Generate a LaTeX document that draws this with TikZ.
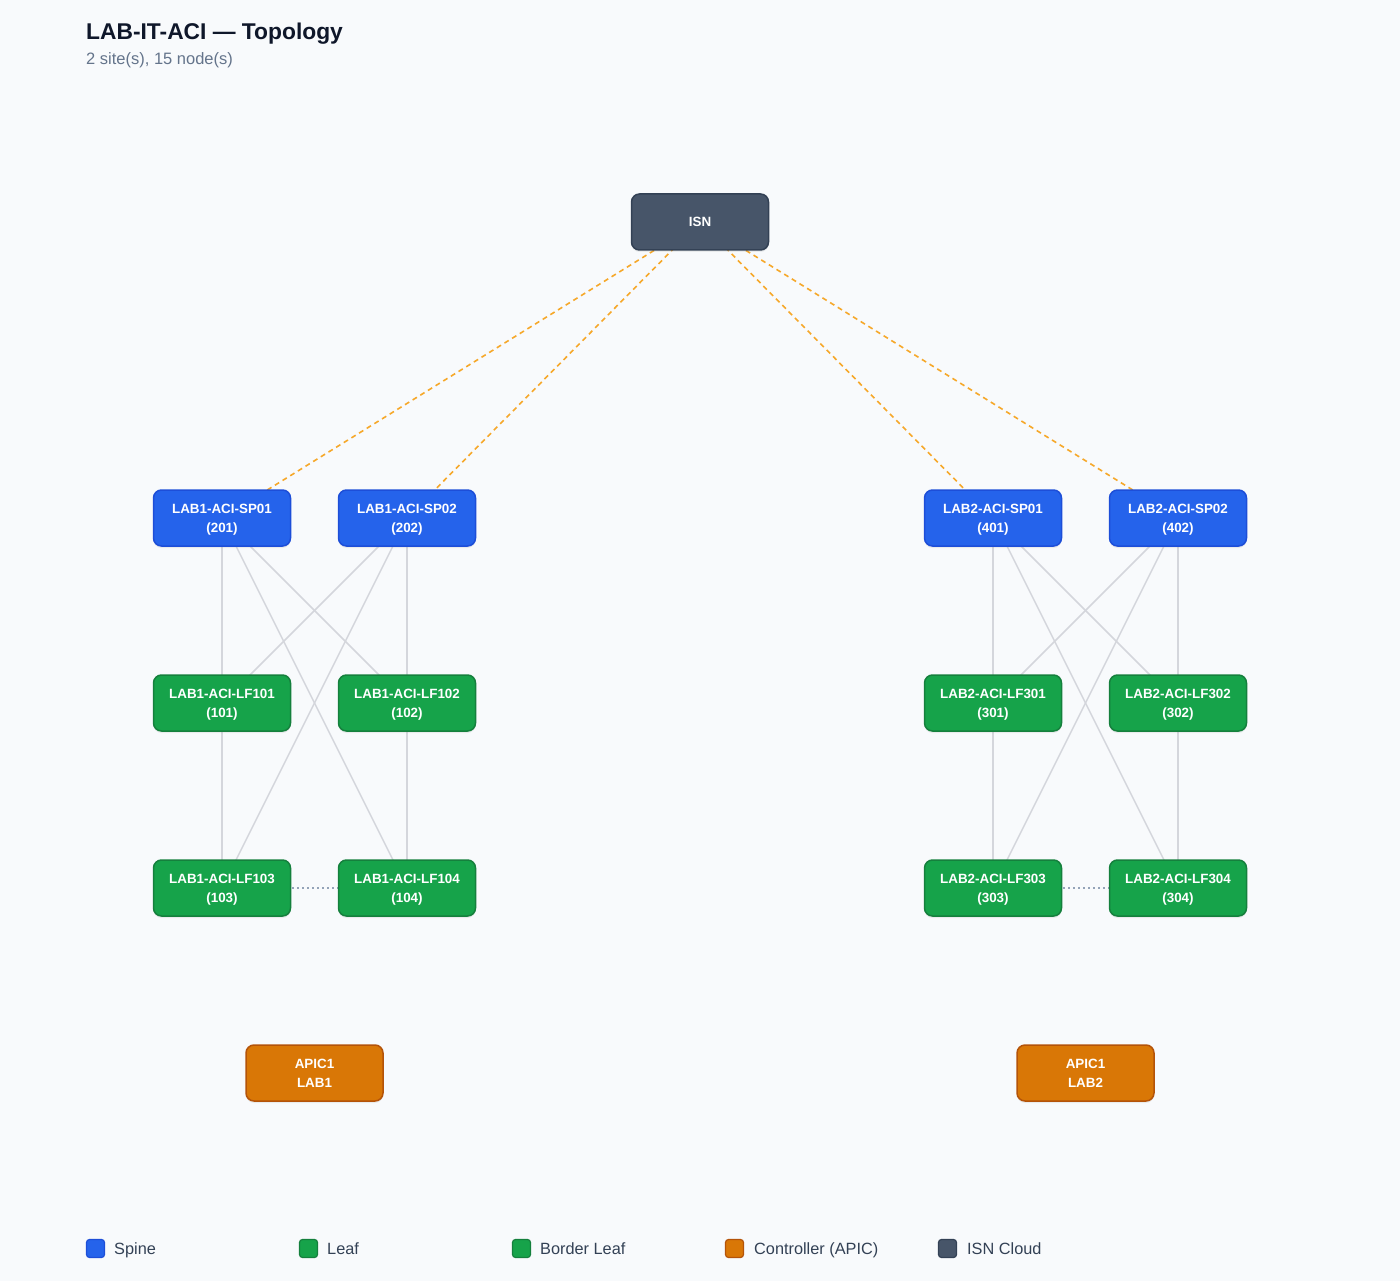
\documentclass[tikz,border=0pt]{standalone}
\usepackage{fontspec}
\setmainfont{Liberation Sans}
\usetikzlibrary{shadows}
\definecolor{bg}{HTML}{F8FAFC}
\definecolor{spine}{HTML}{2563EB}
\definecolor{spineb}{HTML}{1D4ED8}
\definecolor{leaf}{HTML}{16A34A}
\definecolor{leafb}{HTML}{15803D}
\definecolor{apic}{HTML}{D97706}
\definecolor{apicb}{HTML}{B45309}
\definecolor{isn}{HTML}{475569}
\definecolor{isnb}{HTML}{334155}
\definecolor{edgec}{HTML}{D4D6DC}
\definecolor{isnlink}{HTML}{F6A82A}
\definecolor{peerc}{HTML}{94A3B8}
\definecolor{titlec}{HTML}{0F172A}
\definecolor{subc}{HTML}{64748B}
\definecolor{legc}{HTML}{334155}
\pgfdeclarelayer{canvas}
\pgfdeclarelayer{background}
\pgfsetlayers{canvas,background,main}
\tikzset{
  devbox/.style={rectangle, rounded corners=8pt, minimum width=137pt, minimum height=56pt,
    line width=1.5pt, text=white, align=center, inner sep=0pt, text depth=0pt,
    font=\fontsize{13.4}{19}\selectfont\bfseries,
    drop shadow={opacity=0.12, shadow xshift=0pt, shadow yshift=-2pt}},
  spinebox/.style={devbox, fill=spine, draw=spineb},
  leafbox/.style={devbox, fill=leaf, draw=leafb},
  apicbox/.style={devbox, fill=apic, draw=apicb},
  isnbox/.style={devbox, fill=isn, draw=isnb},
  fabric/.style={draw=edgec, line width=1.5pt},
  isnln/.style={draw=isnlink, line width=1.6pt, dash pattern=on 5pt off 4pt},
  peerln/.style={draw=peerc, line width=2pt, dash pattern=on 2pt off 3pt},
  legsq/.style={rectangle, rounded corners=3pt, minimum width=18pt, minimum height=18pt, line width=1.2pt, inner sep=0pt},
  legtxt/.style={anchor=base west, text=legc, font=\fontsize{16.3}{19}\selectfont, inner sep=0pt},
}
\begin{document}
\begin{tikzpicture}[x=1pt,y=-1pt]
\begin{pgfonlayer}{canvas}
\fill[bg] (0,0) rectangle (1400,1281);
\end{pgfonlayer}
\useasboundingbox (0,0) rectangle (1400,1281);

\node[anchor=base west, inner sep=0pt, text=titlec, font=\fontsize{22.8}{27}\selectfont\bfseries] (title) at (86,40) {LAB-IT-ACI — Topology};
\node[anchor=base west, inner sep=0pt, text=subc, font=\fontsize{16.5}{19}\selectfont] (subtitle) at (86,65) {2 site(s), 15 node(s)};

\node[isnbox] (isn) at (700,222) {ISN};

\node[spinebox] (s11) at (222,518) {LAB1-ACI-SP01\\(201)};
\node[spinebox] (s12) at (407,518) {LAB1-ACI-SP02\\(202)};
\node[spinebox] (s21) at (993,518) {LAB2-ACI-SP01\\(401)};
\node[spinebox] (s22) at (1178,518) {LAB2-ACI-SP02\\(402)};

\node[leafbox] (l101) at (222,703) {LAB1-ACI-LF101\\(101)};
\node[leafbox] (l102) at (407,703) {LAB1-ACI-LF102\\(102)};
\node[leafbox] (l103) at (222,888) {LAB1-ACI-LF103\\(103)};
\node[leafbox] (l104) at (407,888) {LAB1-ACI-LF104\\(104)};
\node[leafbox] (l301) at (993,703) {LAB2-ACI-LF301\\(301)};
\node[leafbox] (l302) at (1178,703) {LAB2-ACI-LF302\\(302)};
\node[leafbox] (l303) at (993,888) {LAB2-ACI-LF303\\(303)};
\node[leafbox] (l304) at (1178,888) {LAB2-ACI-LF304\\(304)};

\node[apicbox] (a1) at (314.5,1073) {APIC1\\LAB1};
\node[apicbox] (a2) at (1085.5,1073) {APIC1\\LAB2};

\begin{pgfonlayer}{background}
  \foreach \s in {s11,s12} \foreach \l in {l101,l102,l103,l104}
    \draw[fabric] (\s.center) -- (\l.center);
  \foreach \s in {s21,s22} \foreach \l in {l301,l302,l303,l304}
    \draw[fabric] (\s.center) -- (\l.center);
  \foreach \s in {s11,s12,s21,s22}
    \draw[isnln] (isn.center) -- (\s.center);
  \draw[peerln] (l103.center) -- (l104.center);
  \draw[peerln] (l303.center) -- (l304.center);
\end{pgfonlayer}

\node[legsq, fill=spine, draw=spineb] (lg1) at (95.5,1248.5) {};
\node[legtxt] (lt1) at (114,1254.5) {Spine};
\node[legsq, fill=leaf, draw=leafb] (lg2) at (308.5,1248.5) {};
\node[legtxt] (lt2) at (327,1254.5) {Leaf};
\node[legsq, fill=leaf, draw=leafb] (lg3) at (521.5,1248.5) {};
\node[legtxt] (lt3) at (540,1254.5) {Border Leaf};
\node[legsq, fill=apic, draw=apicb] (lg4) at (734.5,1248.5) {};
\node[legtxt] (lt4) at (754,1254.5) {Controller (APIC)};
\node[legsq, fill=isn, draw=isnb] (lg5) at (947.5,1248.5) {};
\node[legtxt] (lt5) at (967,1254.5) {ISN Cloud};
\end{tikzpicture}
\end{document}
